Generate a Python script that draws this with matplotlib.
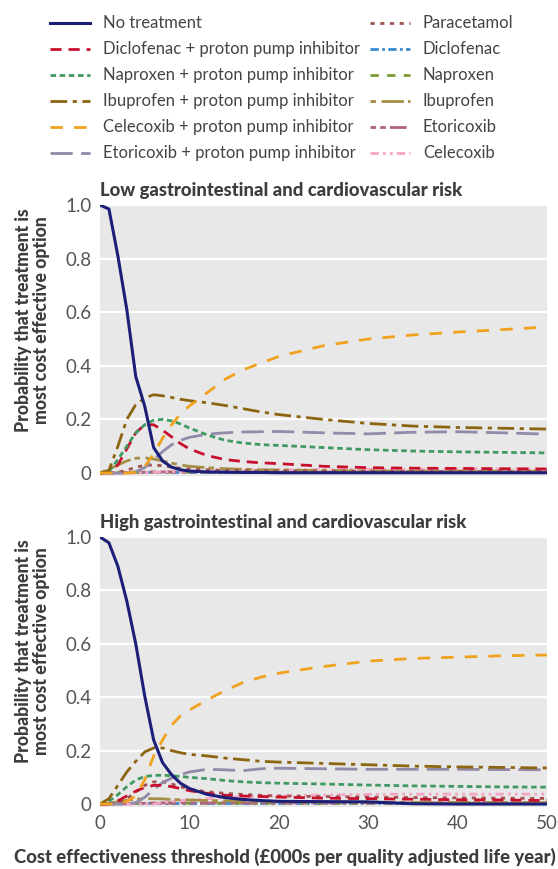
import matplotlib
matplotlib.use("Agg")
import matplotlib.pyplot as plt

plt.rcParams['font.family'] = ['Lato', 'DejaVu Sans']

# cost effectiveness threshold (£000s per QALY)
x = [0, 1, 2, 3, 4, 5, 6, 7, 8, 9, 10, 12, 14, 16, 18, 20, 25, 30, 35, 40, 45, 50]

labels = ["No treatment", "Diclofenac + proton pump inhibitor", "Naproxen + proton pump inhibitor",
          "Ibuprofen + proton pump inhibitor", "Celecoxib + proton pump inhibitor",
          "Etoricoxib + proton pump inhibitor", "Paracetamol", "Diclofenac", "Naproxen",
          "Ibuprofen", "Etoricoxib", "Celecoxib"]

# low gastrointestinal and cardiovascular risk
low = {
    "No treatment": [1.0, 0.985, 0.81, 0.61, 0.36, 0.25, 0.095, 0.045, 0.022, 0.012, 0.007, 0.004, 0.003, 0.002, 0.002, 0.001, 0.001, 0.001, 0.001, 0.001, 0.001, 0.001],
    "Diclofenac + proton pump inhibitor": [0, 0.003, 0.03, 0.09, 0.15, 0.18, 0.18, 0.16, 0.135, 0.11, 0.09, 0.065, 0.05, 0.043, 0.038, 0.035, 0.025, 0.02, 0.018, 0.017, 0.016, 0.015],
    "Naproxen + proton pump inhibitor": [0, 0.005, 0.05, 0.1, 0.15, 0.18, 0.197, 0.2, 0.195, 0.183, 0.168, 0.142, 0.122, 0.112, 0.106, 0.103, 0.095, 0.087, 0.082, 0.079, 0.077, 0.075],
    "Ibuprofen + proton pump inhibitor": [0, 0.01, 0.1, 0.2, 0.255, 0.28, 0.292, 0.288, 0.282, 0.275, 0.27, 0.262, 0.252, 0.24, 0.228, 0.218, 0.2, 0.185, 0.175, 0.17, 0.167, 0.164],
    "Celecoxib + proton pump inhibitor": [0, 0, 0, 0, 0.003, 0.025, 0.07, 0.13, 0.18, 0.22, 0.25, 0.3, 0.35, 0.385, 0.41, 0.435, 0.475, 0.5, 0.515, 0.526, 0.535, 0.545],
    "Etoricoxib + proton pump inhibitor": [0, 0, 0, 0, 0.005, 0.02, 0.05, 0.08, 0.105, 0.122, 0.133, 0.145, 0.15, 0.153, 0.154, 0.155, 0.15, 0.146, 0.152, 0.154, 0.15, 0.145],
    "Paracetamol": [0, 0, 0.003, 0.01, 0.022, 0.028, 0.03, 0.027, 0.022, 0.018, 0.015, 0.012, 0.01, 0.009, 0.008, 0.008, 0.007, 0.007, 0.006, 0.006, 0.006, 0.006],
    "Diclofenac": [0, 0, 0.001, 0.002, 0.002, 0.002, 0.002, 0.002, 0.002, 0.002, 0.002, 0.002, 0.002, 0.002, 0.002, 0.002, 0.002, 0.002, 0.002, 0.002, 0.002, 0.002],
    "Naproxen": [0, 0, 0.001, 0.002, 0.003, 0.003, 0.003, 0.003, 0.003, 0.003, 0.003, 0.003, 0.003, 0.003, 0.003, 0.003, 0.003, 0.003, 0.003, 0.003, 0.003, 0.003],
    "Ibuprofen": [0, 0.015, 0.03, 0.045, 0.055, 0.057, 0.052, 0.045, 0.037, 0.03, 0.025, 0.02, 0.016, 0.014, 0.012, 0.011, 0.009, 0.008, 0.007, 0.007, 0.007, 0.007],
    "Etoricoxib": [0, 0, 0, 0.001, 0.002, 0.003, 0.004, 0.004, 0.004, 0.004, 0.004, 0.004, 0.004, 0.004, 0.004, 0.004, 0.004, 0.004, 0.004, 0.004, 0.004, 0.004],
    "Celecoxib": [0, 0, 0, 0, 0, 0.001, 0.002, 0.003, 0.005, 0.006, 0.008, 0.009, 0.01, 0.011, 0.011, 0.012, 0.013, 0.014, 0.014, 0.015, 0.015, 0.015],
}

# high gastrointestinal and cardiovascular risk
high = {
    "No treatment": [1.0, 0.978, 0.89, 0.76, 0.6, 0.405, 0.24, 0.155, 0.11, 0.078, 0.058, 0.036, 0.024, 0.017, 0.013, 0.01, 0.009, 0.008, 0.001, 0, 0, 0],
    "Diclofenac + proton pump inhibitor": [0, 0, 0.012, 0.03, 0.048, 0.062, 0.07, 0.07, 0.065, 0.058, 0.05, 0.04, 0.033, 0.03, 0.028, 0.026, 0.022, 0.02, 0.018, 0.016, 0.015, 0.013],
    "Naproxen + proton pump inhibitor": [0, 0.01, 0.035, 0.065, 0.09, 0.103, 0.107, 0.108, 0.106, 0.103, 0.1, 0.095, 0.088, 0.083, 0.08, 0.078, 0.075, 0.071, 0.068, 0.066, 0.064, 0.063],
    "Ibuprofen + proton pump inhibitor": [0, 0.02, 0.07, 0.12, 0.16, 0.195, 0.21, 0.21, 0.2, 0.192, 0.186, 0.18, 0.172, 0.166, 0.16, 0.157, 0.152, 0.147, 0.142, 0.139, 0.137, 0.135],
    "Celecoxib + proton pump inhibitor": [0, 0, 0, 0.01, 0.03, 0.09, 0.18, 0.24, 0.295, 0.33, 0.352, 0.39, 0.425, 0.455, 0.475, 0.49, 0.515, 0.535, 0.545, 0.55, 0.555, 0.558],
    "Etoricoxib + proton pump inhibitor": [0, 0, 0, 0, 0.005, 0.025, 0.055, 0.08, 0.097, 0.11, 0.12, 0.13, 0.128, 0.125, 0.132, 0.134, 0.132, 0.13, 0.13, 0.13, 0.129, 0.128],
    "Paracetamol": [0, 0, 0.005, 0.02, 0.045, 0.07, 0.083, 0.083, 0.075, 0.065, 0.055, 0.046, 0.04, 0.036, 0.033, 0.03, 0.028, 0.026, 0.024, 0.023, 0.022, 0.021],
    "Diclofenac": [0, 0, 0.001, 0.002, 0.002, 0.002, 0.002, 0.002, 0.002, 0.002, 0.002, 0.002, 0.002, 0.002, 0.002, 0.002, 0.002, 0.002, 0.002, 0.002, 0.002, 0.002],
    "Naproxen": [0, 0, 0.001, 0.002, 0.003, 0.003, 0.003, 0.003, 0.003, 0.003, 0.003, 0.003, 0.003, 0.003, 0.003, 0.003, 0.003, 0.003, 0.003, 0.003, 0.003, 0.003],
    "Ibuprofen": [0, 0.003, 0.008, 0.014, 0.018, 0.02, 0.02, 0.019, 0.017, 0.016, 0.015, 0.013, 0.012, 0.011, 0.01, 0.009, 0.008, 0.007, 0.006, 0.006, 0.005, 0.005],
    "Etoricoxib": [0, 0, 0, 0.001, 0.002, 0.003, 0.004, 0.004, 0.004, 0.004, 0.004, 0.004, 0.004, 0.004, 0.004, 0.004, 0.004, 0.004, 0.004, 0.004, 0.004, 0.004],
    "Celecoxib": [0, 0, 0, 0, 0, 0, 0, 0.005, 0.01, 0.013, 0.015, 0.02, 0.024, 0.027, 0.029, 0.031, 0.034, 0.036, 0.037, 0.037, 0.037, 0.037],
}

styles = {
    "No treatment": ("#1c1f78", "-", 2.2),
    "Diclofenac + proton pump inhibitor": ("#c8102e", (0, (4, 2.5)), 2.0),
    "Naproxen + proton pump inhibitor": ("#3f9a62", (0, (2, 1.3)), 2.0),
    "Ibuprofen + proton pump inhibitor": ("#8b6510", (0, (6, 2, 1.5, 2)), 2.0),
    "Celecoxib + proton pump inhibitor": ("#f0a21e", (0, (4.5, 4)), 2.0),
    "Etoricoxib + proton pump inhibitor": ("#928aa8", (0, (8, 3)), 2.0),
    "Paracetamol": ("#a0524e", (0, (1.5, 2)), 2.0),
    "Diclofenac": ("#3a8ad2", (0, (3, 1.2, 1, 1.2)), 2.0),
    "Naproxen": ("#7a9a34", (0, (3, 3)), 2.0),
    "Ibuprofen": ("#a48e48", (0, (2, 2, 8, 1.5)), 2.0),
    "Etoricoxib": ("#b06482", (0, (2, 1.5, 2, 1.5, 6, 1.5)), 2.0),
    "Celecoxib": ("#f4a6c4", (0, (3, 1.5, 1, 1.5, 1, 1.5)), 2.0),
}

draw_order = ["Diclofenac", "Naproxen", "Etoricoxib", "Celecoxib", "Ibuprofen", "Paracetamol",
              "Etoricoxib + proton pump inhibitor", "Diclofenac + proton pump inhibitor",
              "Naproxen + proton pump inhibitor", "Ibuprofen + proton pump inhibitor",
              "Celecoxib + proton pump inhibitor", "No treatment"]

text_col = "#3d3d3d"
fig = plt.figure(figsize=(5.58, 8.69), dpi=100)

panels = [
    ("Low gastrointestinal and cardiovascular risk", low, [0.1792, 0.4526, 0.801, 0.3115]),
    ("High gastrointestinal and cardiovascular risk", high, [0.1792, 0.0717, 0.801, 0.3104]),
]

handles = {}
axes = []
for title, data, rect in panels:
    ax = fig.add_axes(rect)
    ax.set_facecolor("#e8e8e8")
    for name in draw_order:
        col, ls, lw = styles[name]
        ln, = ax.plot(x, data[name], color=col, linestyle=ls, linewidth=lw, label=name)
        handles[name] = ln
    ax.set_xlim(0, 50)
    ax.set_ylim(-0.01, 1.0)
    ax.set_yticks([0, 0.2, 0.4, 0.6, 0.8, 1.0])
    ax.set_yticklabels(["0", "0.2", "0.4", "0.6", "0.8", "1.0"])
    ax.set_xticks([0, 10, 20, 30, 40, 50])
    ax.grid(axis="y", color="white", linewidth=1.6)
    ax.set_axisbelow(True)
    for s in ax.spines.values():
        s.set_visible(False)
    ax.tick_params(length=0, labelsize=13.5, colors="#555555", pad=6)
    ax.text(0, 1.022, title, transform=ax.transAxes, fontsize=13.3, fontweight="black",
            color=text_col, ha="left", va="bottom")
    axes.append(ax)

axes[0].tick_params(labelbottom=False)

ylab = "Probability that treatment is\nmost cost effective option"
fig.text(0.058, 0.632, ylab, rotation=90, ha="center", va="center", fontsize=12.8,
         fontweight="black", color=text_col, linespacing=1.05)
fig.text(0.058, 0.251, ylab, rotation=90, ha="center", va="center", fontsize=12.8,
         fontweight="black", color=text_col, linespacing=1.05)
fig.text(0.51, 0.0135, "Cost effectiveness threshold (£000s per quality adjusted life year)",
         ha="center", va="center", fontsize=13.3, fontweight="black", color=text_col)

left = labels[:6]
right = labels[6:]
leg_kw = dict(frameon=False, fontsize=12, handlelength=2.4, handletextpad=0.75,
              labelspacing=0.6, borderaxespad=0, labelcolor="#444444")
fig.legend([handles[n] for n in left], left, loc="upper left",
           bbox_to_anchor=(0.078, 0.99), **leg_kw)
fig.legend([handles[n] for n in right], right, loc="upper left",
           bbox_to_anchor=(0.652, 0.99), **leg_kw)

fig.savefig("out.png", dpi=100)
